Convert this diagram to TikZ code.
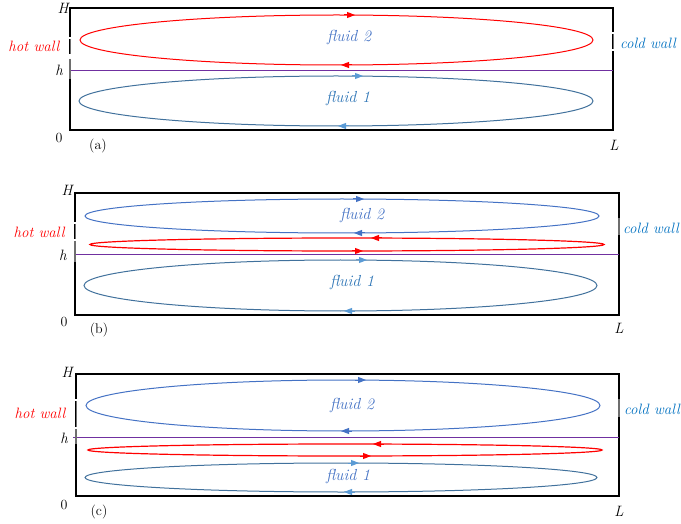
\documentclass[tikz,border=0pt]{standalone}
\usetikzlibrary{arrows.meta}
\definecolor{hotred}{RGB}{255,0,0}
\definecolor{fblue}{RGB}{68,114,196}
\definecolor{fdark}{RGB}{65,113,156}
\definecolor{flight}{RGB}{91,155,213}
\definecolor{cwall}{RGB}{0,112,192}
\definecolor{fone}{RGB}{46,117,182}
\definecolor{purp}{RGB}{112,48,160}
\definecolor{wallgray}{RGB}{110,110,110}
\tikzset{
  boxline/.style={draw=black,line width=1.2pt},
  loopline/.style={line width=1pt},
  interface/.style={draw=purp,line width=0.8pt},
  wallmark/.style={draw=wallgray,line width=1.3pt},
  tip/.style={-{Triangle[length=8pt,width=6pt]},line width=1pt},
  lbl/.style={inner sep=0pt,font=\fontsize{14}{16}\selectfont},
  hotlbl/.style={lbl,text=hotred,font=\fontsize{15}{17}\selectfont\itshape},
  coldlbl/.style={lbl,text=cwall,font=\fontsize{15}{17}\selectfont\itshape},
  fluidlbl/.style={lbl,font=\fontsize{16}{18}\selectfont\itshape},
  varlbl/.style={lbl,font=\fontsize{15}{17}\selectfont\itshape},
  numlbl/.style={lbl,font=\fontsize{14}{16}\selectfont},
}
\begin{document}
\begin{tikzpicture}[x=1pt,y=-1pt]
\useasboundingbox (0,0) rectangle (681,524);

% ================= (a) =================
\draw[boxline] (70,8) rectangle (613,130);
\draw[interface] (70,70) -- (613,70);
% wall marks
\draw[white,line width=1.6pt] (70,37) -- (70,39) (70,54) -- (70,59);
\draw[wallmark] (70.8,39) -- (70.8,54);
\draw[wallmark] (70,59) -- (70,79);
\draw[white,line width=1.6pt] (613,32) -- (613,34) (613,49) -- (613,51);
\draw[wallmark] (613.8,34) -- (613.8,49);
% loops
\draw[hotred,loopline] (336.5,40) ellipse [x radius=256.5pt,y radius=25pt];
\draw[fdark,loopline] (336,101) ellipse [x radius=257pt,y radius=25pt];
\draw[hotred,tip] (344,15) -- (355,15);
\draw[hotred,tip] (352,65) -- (341,65);
\draw[flight,tip] (352,76) -- (363,76);
\draw[flight,tip] (349,126) -- (338,126);
% labels
\node[fluidlbl,text=fblue] (f2a) at (349,38) {fluid 2};
\node[fluidlbl,text=fone] (f1a) at (348,99) {fluid 1};
\node[hotlbl] (hwa) at (34,46) {hot wall};
\node[coldlbl] (cwa) at (648,43) {cold wall};
\node[varlbl] (Ha) at (63,8) {H};
\node[varlbl] (ha) at (59,70) {h};
\node[numlbl] (za) at (59,138) {0};
\node[numlbl] (pa) at (98,146) {(a)};
\node[varlbl] (La) at (614,145) {L};

% ================= (b) =================
\draw[boxline] (75,193) rectangle (619,315);
\draw[interface] (75,254) -- (619,254);
\draw[white,line width=1.6pt] (75,222) -- (75,224) (75,239) -- (75,241);
\draw[wallmark] (75.8,224) -- (75.8,239);
\draw[wallmark] (75,241) -- (75,262);
\draw[wallmark,line width=1.8pt] (619,218) -- (619,235);
\draw[fblue,loopline] (342,216) ellipse [x radius=257pt,y radius=17pt];
\draw[hotred,loopline,line width=1.2pt] (347,244.5) ellipse [x radius=257pt,y radius=6.5pt];
\draw[fdark,loopline] (340.5,285.5) ellipse [x radius=256.5pt,y radius=25.5pt];
\draw[fblue,tip] (353,199) -- (364,199);
\draw[fblue,tip] (365,233) -- (354,233);
\draw[hotred,tip] (382,238) -- (371,238);
\draw[hotred,tip] (352,251) -- (363,251);
\draw[flight,tip] (356,260) -- (367,260);
\draw[flight,tip] (355,311) -- (344,311);
\node[fluidlbl,text=fblue] (f2b) at (362,216) {fluid 2};
\node[fluidlbl,text=fone] (f1b) at (352,283) {fluid 1};
\node[hotlbl] (hwb) at (39,232) {hot wall};
\node[coldlbl] (cwb) at (651,228) {cold wall};
\node[varlbl] (Hb) at (67,190) {H};
\node[varlbl] (hb) at (63,255) {h};
\node[numlbl] (zb) at (64,322) {0};
\node[numlbl] (pb) at (99,330) {(b)};
\node[varlbl] (Lb) at (619,328) {L};

% ================= (c) =================
\draw[boxline] (76,374) rectangle (619,496);
\draw[interface] (73,437) -- (619,437);
\draw[white,line width=1.6pt] (76,399) -- (76,401) (76,427) -- (76,429);
\draw[wallmark] (76.8,401) -- (76.8,427);
\draw[wallmark] (76,429) -- (76,444);
\draw[wallmark,line width=1.8pt] (619,399) -- (619,417);
\draw[fblue,loopline] (343,405.5) ellipse [x radius=257pt,y radius=25.5pt];
\draw[hotred,loopline,line width=1.2pt] (345,450) ellipse [x radius=257pt,y radius=6pt];
\draw[fdark,loopline] (341,477.5) ellipse [x radius=256pt,y radius=14.5pt];
\draw[fblue,tip] (355,380) -- (366,380);
\draw[fblue,tip] (352,431) -- (341,431);
\draw[hotred,tip] (384,444) -- (373,444);
\draw[hotred,tip] (360,456) -- (371,456);
\draw[flight,tip] (348,463) -- (359,463);
\draw[flight,tip] (355,492) -- (344,492);
\node[fluidlbl,text=fblue] (f2c) at (352,405) {fluid 2};
\node[fluidlbl,text=fblue] (f1c) at (348,476) {fluid 1};
\node[hotlbl] (hwc) at (40,413) {hot wall};
\node[coldlbl] (cwc) at (652,409) {cold wall};
\node[varlbl] (Hc) at (67,372) {H};
\node[varlbl] (hc) at (64,438) {h};
\node[numlbl] (zc) at (64,505) {0};
\node[numlbl] (pc) at (99,512) {(c)};
\node[varlbl] (Lc) at (619,511) {L};
\end{tikzpicture}
\end{document}
